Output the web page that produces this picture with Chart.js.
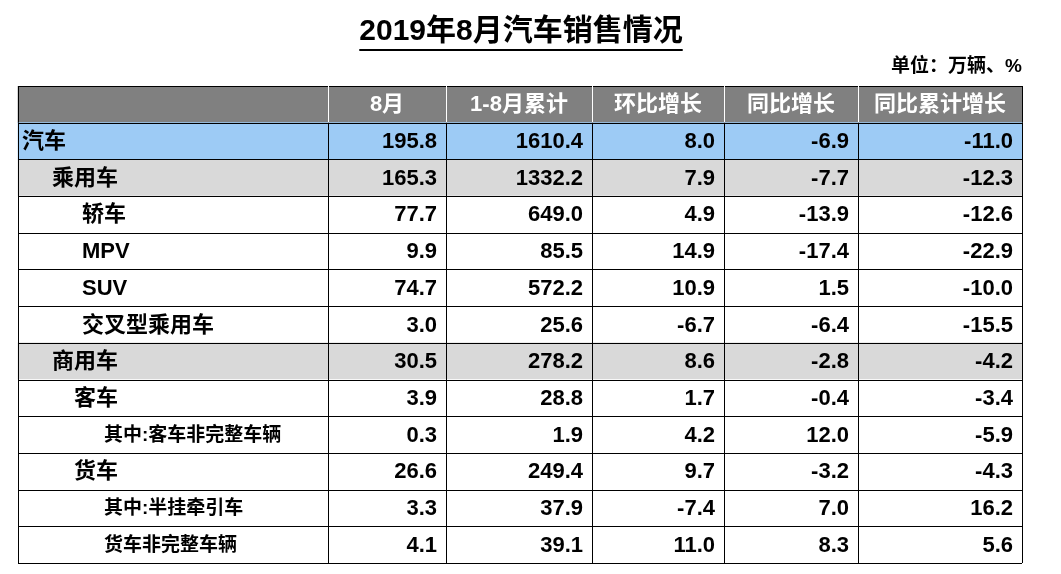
<!DOCTYPE html>
<html><head><meta charset="utf-8">
<script src="https://cdn.jsdelivr.net/npm/chart.js@4"></script>
<style>body{margin:0;background:#fff}#wrap{width:1061px;height:574px}</style>
</head><body><div id="wrap"><canvas id="c"></canvas></div>
<script>
// table rows
var headers=['','8月','1-8月累计','环比增长','同比增长','同比累计增长'];
var rowNames=['汽车','乘用车','轿车','MPV','SUV','交叉型乘用车','商用车','客车','其中:客车非完整车辆','货车','其中:半挂牵引车','货车非完整车辆'];
var rowIndent=[22,52,82,82,82,82,52,74,104,74,104,104];
var augSales=[195.8,165.3,77.7,9.9,74.7,3.0,30.5,3.9,0.3,26.6,3.3,4.1];
var ytdSales=[1610.4,1332.2,649.0,85.5,572.2,25.6,278.2,28.8,1.9,249.4,37.9,39.1];
var momGrowth=[8.0,7.9,4.9,14.9,10.9,-6.7,8.6,1.7,4.2,9.7,-7.4,11.0];
var yoyGrowth=[-6.9,-7.7,-13.9,-17.4,1.5,-6.4,-2.8,-0.4,12.0,-3.2,7.0,8.3];
var ytdGrowth=[-11.0,-12.3,-12.6,-22.9,-10.0,-15.5,-4.2,-3.4,-5.9,-4.3,16.2,5.6];
var colEdges=[18,328,446,592,724,858,1022];

var labels=['header'].concat(rowNames);
var bgColors=['#808080','#9dcbf5','#d9d9d9','#fff','#fff','#fff','#fff','#d9d9d9','#fff','#fff','#fff','#fff','#fff'];
var cols=[augSales,ytdSales,momGrowth,yoyGrowth,ytdGrowth];

var tablePlugin={
  id:'tablePlugin',
  afterDatasetsDraw:function(chart){
    var ctx=chart.ctx,x=chart.scales.x,y=chart.scales.y;
    var half=(y.getPixelForValue(1)-y.getPixelForValue(0))/2;
    ctx.save();
    // title
    ctx.fillStyle='#000';ctx.textAlign='center';ctx.textBaseline='middle';
    ctx.font='bold 30px "Liberation Sans","Noto Sans CJK SC"';
    ctx.fillText('2019年8月汽车销售情况',521,32);
    var tw=ctx.measureText('2019年8月汽车销售情况').width;
    ctx.fillRect(521-tw/2,49,tw,2);
    ctx.textAlign='right';ctx.font='bold 19px "Liberation Sans","Noto Sans CJK SC"';
    ctx.fillText('单位：万辆、%',1022,67);
    // grid
    var top=y.getPixelForValue(0)-half,bot=y.getPixelForValue(labels.length-1)+half;
    ctx.strokeStyle='#000';ctx.lineWidth=1;
    for(var r=0;r<=labels.length;r++){
      var yy=Math.round(top+r*half*2)+0.5;
      ctx.beginPath();ctx.moveTo(x.getPixelForValue(colEdges[0]),yy);ctx.lineTo(x.getPixelForValue(colEdges[6]),yy);ctx.stroke();
    }
    colEdges.forEach(function(e,i){
      var xx=Math.round(x.getPixelForValue(e))+0.5;
      ctx.strokeStyle=(i>0&&i<6)?'#fff':'#000';
      ctx.beginPath();ctx.moveTo(xx,top);ctx.lineTo(xx,top+half*2);ctx.stroke();
      ctx.strokeStyle='#000';
      ctx.beginPath();ctx.moveTo(xx,top+half*2);ctx.lineTo(xx,bot);ctx.stroke();
    });
    // header
    ctx.fillStyle='#fff';ctx.textAlign='center';
    ctx.font='bold 22px "Liberation Sans","Noto Sans CJK SC"';
    for(var c=1;c<6;c++){
      ctx.fillText(headers[c],x.getPixelForValue((colEdges[c]+colEdges[c+1])/2),y.getPixelForValue(0)+1);
    }
    // body
    ctx.fillStyle='#000';
    rowNames.forEach(function(n,i){
      var yy=y.getPixelForValue(i+1)+1;
      ctx.textAlign='left';
      ctx.font=(rowIndent[i]>=104?'bold 19px ':'bold 22px ')+'"Liberation Sans","Noto Sans CJK SC"';
      ctx.fillText(n,x.getPixelForValue(rowIndent[i]),yy);
      ctx.textAlign='right';ctx.font='bold 22px "Liberation Sans","Noto Sans CJK SC"';
      cols.forEach(function(arr,c){
        ctx.fillText(arr[i].toFixed(1),x.getPixelForValue(colEdges[c+2]-9),yy);
      });
    });
    ctx.restore();
  }
};

new Chart(document.getElementById('c'),{
  type:'bar',
  data:{labels:labels,datasets:[{
    data:labels.map(function(){return [colEdges[0],colEdges[6]];}),
    backgroundColor:bgColors,borderWidth:0,
    barPercentage:1,categoryPercentage:1
  }]},
  options:{
    indexAxis:'y',responsive:true,maintainAspectRatio:false,animation:false,
    layout:{padding:{top:86,bottom:11,left:0,right:0}},
    plugins:{legend:{display:false},tooltip:{enabled:false}},
    scales:{
      x:{type:'linear',min:0,max:1061,display:false},
      y:{type:'category',display:false,offset:true}
    }
  },
  plugins:[tablePlugin]
});
</script></body></html>
